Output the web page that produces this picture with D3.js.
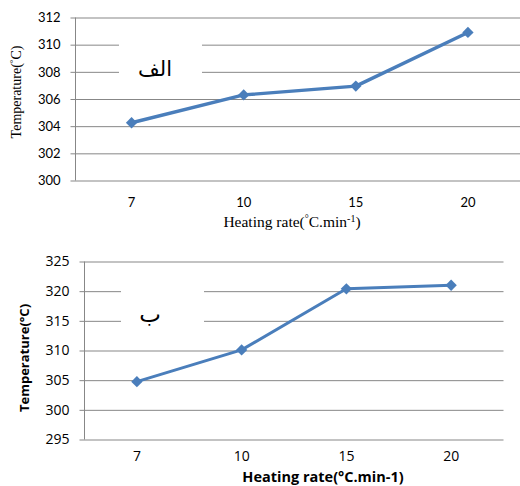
<!DOCTYPE html>
<html>
<head>
<meta charset="utf-8">
<script src="https://cdn.jsdelivr.net/npm/d3@7"></script>
<style>
  body { margin: 0; background: #fff; }
</style>
</head>
<body>
<div id="canvas"></div>
<script>
// heating rates (°C/min)
const rates = ["7", "10", "15", "20"];
// panel الف
const tempA = [304.25, 306.3, 306.95, 310.9];
const ticksA = [300, 302, 304, 306, 308, 310, 312];
// panel ب
const tempB = [304.75, 310.1, 320.4, 321.0];
const ticksB = [295, 300, 305, 310, 315, 320, 325];

const svg = d3.select("#canvas")
  .append("svg")
  .attr("width", 520)
  .attr("height", 486);

const drawPanel = (p) => {
  const x = d3.scaleBand().domain(rates).range([p.left, p.right]);
  const y = d3.scaleLinear().domain([p.ticks[0], p.ticks[p.ticks.length - 1]]).range([p.bottom, p.top]);

  const g = svg.append("g");

  // gridlines + y ticks
  const ya = g.append("g")
    .attr("transform", `translate(${p.left},0)`)
    .call(d3.axisLeft(y).tickValues(p.ticks).tickSizeOuter(0).tickPadding(9));
  ya.select(".domain").remove();
  ya.selectAll(".tick line")
    .attr("x1", -5)
    .attr("x2", p.gridEnd - p.left)
    .attr("stroke", "#878787")
    .attr("stroke-width", 1);
  ya.selectAll(".tick text")
    .attr("fill", "#000")
    .style("font", p.tickFont);

  // vertical axis line
  g.append("line")
    .attr("x1", p.left).attr("x2", p.left)
    .attr("y1", y(p.ticks[p.ticks.length - 1])).attr("y2", y(p.ticks[0]))
    .attr("stroke", "#878787");

  // white box behind the panel letter
  g.append("rect")
    .attr("x", p.box[0]).attr("y", p.box[1])
    .attr("width", p.box[2]).attr("height", p.box[3])
    .attr("fill", "#fff");
  g.append("text")
    .attr("x", p.labelPos[0]).attr("y", p.labelPos[1])
    .attr("text-anchor", "middle")
    .style("font", p.labelFont)
    .text(p.label);

  // x tick labels
  const xa = g.append("g")
    .attr("transform", `translate(0,${p.bottom})`)
    .call(d3.axisBottom(x).tickSize(0).tickPadding(p.xPad));
  xa.select(".domain").remove();
  xa.selectAll(".tick text").attr("fill", "#000").style("font", p.tickFont);

  // line + markers
  const pts = rates.map((r, i) => [x(r) + x.bandwidth() / 2, y(p.values[i])]);
  g.append("path")
    .attr("d", d3.line()(pts))
    .attr("fill", "none")
    .attr("stroke", "#4a7ebb")
    .attr("stroke-width", p.lineWidth)
    .attr("stroke-linejoin", "round");
  g.selectAll(".mark")
    .data(pts)
    .join("path")
    .attr("class", "mark")
    .attr("d", d3.symbol(d3.symbolSquare, 64)())
    .attr("transform", d => `translate(${d[0]},${d[1]}) rotate(45)`)
    .attr("fill", "#4a7ebb");

  // axis titles
  const xt = g.append("text")
    .attr("x", p.xTitle[0]).attr("y", p.xTitle[1])
    .attr("text-anchor", "middle")
    .style("font", p.xTitleFont);
  xt.append("tspan").text(p.sup ? "Heating rate(" : "Heating rate(°C.min-1)");
  if (p.sup) {
    xt.append("tspan").attr("dy", -5).style("font-size", "10px").text("°");
    xt.append("tspan").attr("dy", 5).text("C.min");
    xt.append("tspan").attr("dy", -5).style("font-size", "10px").text("-1");
    xt.append("tspan").attr("dy", 5).text(")");
  }

  const yt = g.append("text")
    .attr("transform", `translate(${p.yTitle[0]},${p.yTitle[1]}) rotate(-90)`)
    .attr("text-anchor", "middle")
    .style("font", p.yTitleFont);
  yt.append("tspan").text(p.sup ? "Temperature(" : "Temperature(°C)");
  if (p.sup) {
    yt.append("tspan").attr("dy", -5).style("font-size", "9px").text("°");
    yt.append("tspan").attr("dy", 5).text("C)");
  }
};

drawPanel({
  values: tempA, ticks: ticksA,
  left: 75.5, right: 524, top: 17.5, bottom: 180.5, gridEnd: 520,
  tickFont: "13px Lato, 'Open Sans', sans-serif", xPad: 17,
  label: "الف", labelPos: [155, 76], labelFont: "21px 'Liberation Serif', 'DejaVu Sans', serif",
  box: [119, 30, 83, 56],
  lineWidth: 3.4,
  xTitleFont: "15.5px 'Liberation Serif', serif",
  yTitleFont: "14px 'Liberation Serif', serif", sup: true,
  xTitle: [292, 227], yTitle: [21, 92]
});

drawPanel({
  values: tempB, ticks: ticksB,
  left: 84.5, right: 503.5, top: 261.5, bottom: 439.5, gridEnd: 503.5,
  tickFont: "14px 'Open Sans', sans-serif", xPad: 12,
  label: "ب", labelPos: [150, 322], labelFont: "23px 'DejaVu Sans', sans-serif",
  box: [121, 272, 83, 62],
  lineWidth: 3,
  xTitleFont: "bold 14.5px 'Open Sans', sans-serif",
  yTitleFont: "bold 13px 'Open Sans', sans-serif", sup: false,
  xTitle: [323, 481.5], yTitle: [29, 358]
});
</script>
</body>
</html>
